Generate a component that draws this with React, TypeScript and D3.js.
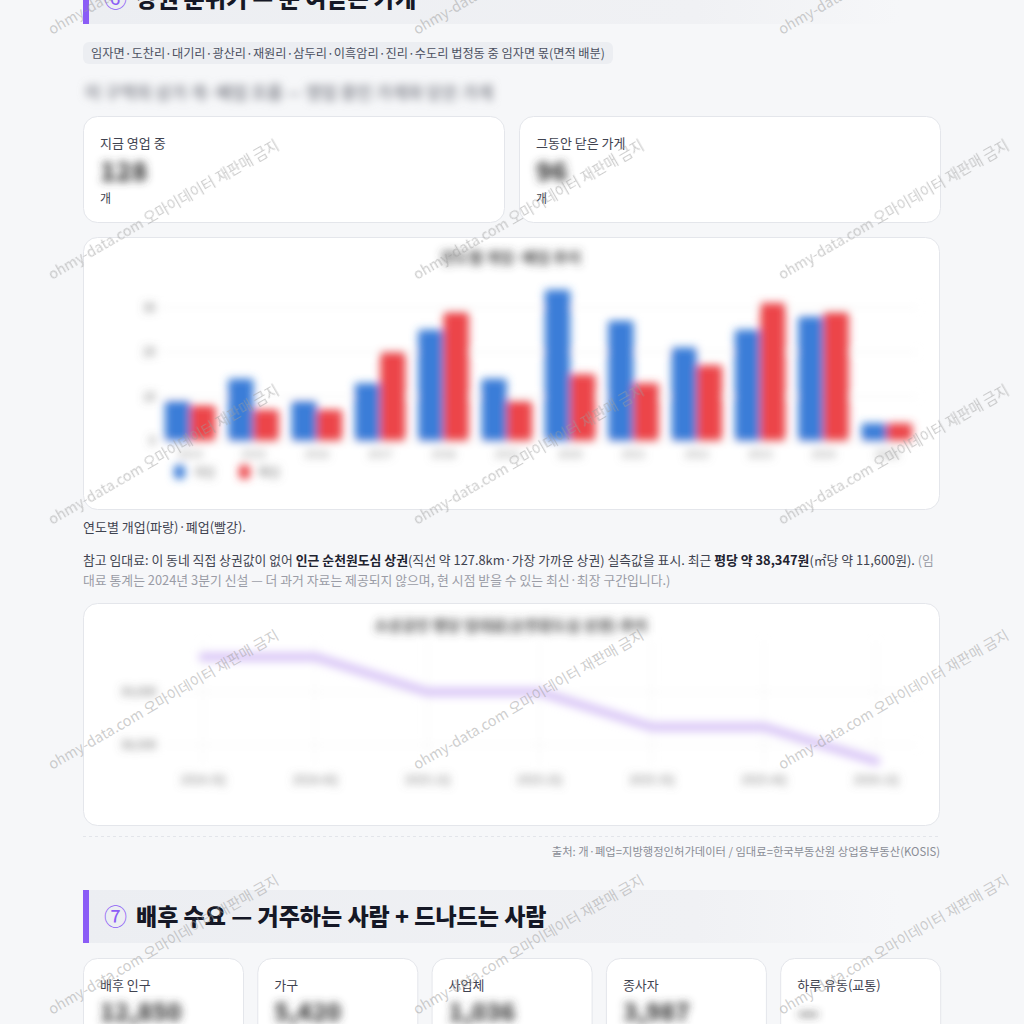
import React from 'react';
import * as d3 from 'd3';

const FONT = '"Noto Sans CJK KR", "Noto Sans", sans-serif';

const years = ['2014', '2015', '2016', '2017', '2018', '2019', '2020', '2021', '2022', '2023', '2024', '2025'];
const openCounts = [9, 14, 9, 13, 25, 14, 34, 27, 21, 25, 28, 4];
const closeCounts = [8, 7, 7, 20, 29, 9, 15, 13, 17, 31, 29, 4];
const barTicks = [0, 10, 20, 30];

const rentQuarters = ['2024.3Q', '2024.4Q', '2025.1Q', '2025.2Q', '2025.3Q', '2025.4Q', '2026.1Q'];
const rentValues = [39330, 39330, 39000, 39000, 38670, 38670, 38347];
const rentTicks = [38500, 39000];

const demandLabels = ['배후 인구', '가구', '사업체', '종사자', '하루 유동(교통)'];
const demandValues = ['12,850', '5,420', '1,036', '3,987', '—'];

const wmCols = [52, 417, 782];
const wmRows = [35, 280, 525, 770, 1015];

export default function App() {
  const x = d3.scaleBand<string>().domain(years).range([158.5, 918.5]).paddingInner(0.2).paddingOuter(0.1);
  const xs = d3.scaleBand<string>().domain(['open', 'close']).range([0, x.bandwidth()]);
  const y = d3.scaleLinear().domain([0, 30]).range([441, 307.5]);

  const lx = d3.scalePoint<string>().domain(rentQuarters).range([203, 876]);
  const ly = d3.scaleLinear().domain([38500, 39000]).range([745, 692]);
  const line = d3.line<number>().x((_, i) => lx(rentQuarters[i]) as number).y((d) => ly(d));

  const purple = '#8b5cf6';
  const blue = '#3b7dd8';
  const red = '#ec4449';

  return (
    <svg width={1024} height={1024} style={{ position: 'absolute', left: 0, top: 0 }} fontFamily={FONT}>
      <defs>
        <linearGradient id="hdr" x1="0" x2="1" y1="0" y2="0">
          <stop offset="0" stopColor="#eceef2" />
          <stop offset="0.75" stopColor="#f0f1f4" />
          <stop offset="1" stopColor="#f6f7f9" />
        </linearGradient>
        <filter id="blurChart" x="-10%" y="-10%" width="120%" height="120%">
          <feGaussianBlur stdDeviation="4" />
        </filter>
        <filter id="blurText" x="-30%" y="-60%" width="160%" height="220%">
          <feGaussianBlur stdDeviation="4.5" />
        </filter>
      </defs>
      <rect x={0} y={0} width={1024} height={1024} fill="#f6f7f9" />

      {/* Section 6 header */}
      <rect x={83} y={-29} width={817} height={53} fill="url(#hdr)" />
      <rect x={83} y={-29} width={6} height={53} fill={purple} />
      <text x={104} y={7} fontSize={23} fontWeight={900} fill="#151826">
        <tspan fill={purple} fontWeight={400}>⑥</tspan>
        <tspan dx={9}>상권 분위기 — 문 여닫는 가게</tspan>
      </text>

      {/* subtitle pill */}
      <rect x={83} y={42} width={530} height={22} rx={6} fill="#eceef2" />
      <text x={91} y={58} fontSize={12.2} fill="#4b5060">
        임자면·도찬리·대기리·광산리·재원리·삼두리·이흑암리·진리·수도리 법정동 중 임자면 몫(면적 배분)
      </text>
      <text x={85} y={99} fontSize={17} fontWeight={700} fill="#8a8c94" filter="url(#blurText)">
        이 구역의 상가 개·폐업 흐름 — 영업 중인 가게와 닫은 가게
      </text>

      {/* stat cards */}
      {[
        { x: 83, label: '지금 영업 중', val: '128' },
        { x: 519, label: '그동안 닫은 가게', val: '96' },
      ].map((c) => (
        <g key={c.label}>
          <rect x={c.x + 0.5} y={116.5} width={421} height={106} rx={14} fill="#fff" stroke="#e4e6eb" />
          <text x={c.x + 17} y={148} fontSize={13} fill="#3f4350">{c.label}</text>
          <text x={c.x + 17} y={181} fontSize={26} fontWeight={900} fill="#3a3a3a" filter="url(#blurText)">{c.val}</text>
          <text x={c.x + 17} y={203} fontSize={12} fill="#3f4350">개</text>
        </g>
      ))}

      {/* bar chart card */}
      <rect x={83.5} y={237.5} width={856} height={272} rx={14} fill="#fff" stroke="#e4e6eb" />
      <g filter="url(#blurChart)">
        <text x={511} y={263} textAnchor="middle" fontSize={15} fontWeight={700} fill="#444">연도별 개업·폐업 추이</text>
        {barTicks.map((t) => (
          <g key={t}>
            <line x1={160} x2={918} y1={y(t)} y2={y(t)} stroke="#ececec" />
            <text x={156} y={y(t) + 4} textAnchor="end" fontSize={12} fill="#666">{t}</text>
          </g>
        ))}
        {years.map((yr, i) => (
          <g key={yr} transform={`translate(${x(yr)},0)`}>
            <rect x={xs('open')} y={y(openCounts[i])} width={xs.bandwidth()} height={441 - y(openCounts[i])} fill={blue} rx={2} />
            <rect x={xs('close')} y={y(closeCounts[i])} width={xs.bandwidth()} height={441 - y(closeCounts[i])} fill={red} rx={2} />
            <text x={x.bandwidth() / 2} y={458} textAnchor="middle" fontSize={11} fill="#888">{yr}</text>
          </g>
        ))}
        <rect x={174} y={465} width={11} height={14} rx={4} fill={blue} />
        <text x={193} y={477} fontSize={12} fill="#777">개업</text>
        <rect x={239} y={465} width={11} height={14} rx={4} fill={red} />
        <text x={258} y={477} fontSize={12} fill="#777">폐업</text>
      </g>

      {/* paragraph */}
      <text x={83} y={532} fontSize={13} fill="#3f4350">연도별 개업(파랑)·폐업(빨강).</text>
      <text x={83} y={565} fontSize={12.85} fill="#3f4350">
        <tspan>참고 임대료: 이 동네 직접 상권값이 없어 </tspan>
        <tspan fontWeight={700} fill="#1f2330">인근 순천원도심 상권</tspan>
        <tspan>(직선 약 127.8km·가장 가까운 상권) 실측값을 표시. 최근 </tspan>
        <tspan fontWeight={700} fill="#1f2330">평당 약 38,347원</tspan>
        <tspan>(㎡당 약 11,600원). </tspan>
        <tspan fill="#9a9ca6">(임</tspan>
      </text>
      <text x={83} y={585} fontSize={12.85} fill="#9a9ca6">
        대료 통계는 2024년 3분기 신설 — 더 과거 자료는 제공되지 않으며, 현 시점 받을 수 있는 최신·최장 구간입니다.)
      </text>

      {/* line chart card */}
      <rect x={83.5} y={603.5} width={856} height={222} rx={14} fill="#fff" stroke="#e4e6eb" />
      <g filter="url(#blurChart)">
        <text x={511} y={631} textAnchor="middle" fontSize={15} fontWeight={700} fill="#444">소상공인 평당 임대료(순천원도심 상권) 추이</text>
        {rentQuarters.map((q) => (
          <g key={q}>
            <line x1={lx(q)} x2={lx(q)} y1={640} y2={765} stroke="#f0f0f0" />
            <text x={lx(q)} y={784} textAnchor="middle" fontSize={12} fill="#777">{q}</text>
          </g>
        ))}
        {rentTicks.map((t) => (
          <g key={t}>
            <line x1={160} x2={918} y1={ly(t)} y2={ly(t)} stroke="#f0f0f0" />
            <text x={157} y={ly(t) + 4} textAnchor="end" fontSize={12} fill="#666">{d3.format(',')(t)}</text>
          </g>
        ))}
        <path d={line(rentValues) || ''} fill="none" stroke="#d9c6f6" strokeWidth={9} strokeLinejoin="round" strokeLinecap="round" />
      </g>

      {/* source */}
      <line x1={83} x2={940} y1={836.5} y2={836.5} stroke="#e3e5ea" strokeDasharray="3 3" />
      <text x={940} y={856} textAnchor="end" fontSize={11.3} fill="#8a8d96">
        출처: 개·폐업=지방행정인허가데이터 / 임대료=한국부동산원 상업용부동산(KOSIS)
      </text>

      {/* Section 7 header */}
      <rect x={83} y={890} width={817} height={53} fill="url(#hdr)" />
      <rect x={83} y={890} width={6} height={53} fill={purple} />
      <text x={104} y={925} fontSize={23} fontWeight={900} fill="#151826">
        <tspan fill={purple} fontWeight={400}>⑦</tspan>
        <tspan dx={9}>배후 수요 — 거주하는 사람 + 드나드는 사람</tspan>
      </text>

      {demandLabels.map((lab, i) => {
        const cx = 83 + i * 174.3;
        return (
          <g key={lab}>
            <rect x={cx + 0.5} y={958.5} width={160} height={110} rx={14} fill="#fff" stroke="#e4e6eb" />
            <text x={cx + 17} y={990} fontSize={13} fill="#3f4350">{lab}</text>
            <text x={cx + 17} y={1021} fontSize={24} fontWeight={900} fill="#3a3a3a" filter="url(#blurText)">{demandValues[i]}</text>
          </g>
        );
      })}

      {/* watermarks */}
      <g pointerEvents="none">
        {wmRows.map((ry) =>
          wmCols.map((cx) => (
            <text key={`${cx}-${ry}`} transform={`translate(${cx},${ry}) rotate(-30)`} fontSize={14.5} fill="#9c9c9c" fillOpacity={0.5}>
              ohmy-data.com 오마이데이터 재판매 금지
            </text>
          ))
        )}
      </g>
    </svg>
  );
}
